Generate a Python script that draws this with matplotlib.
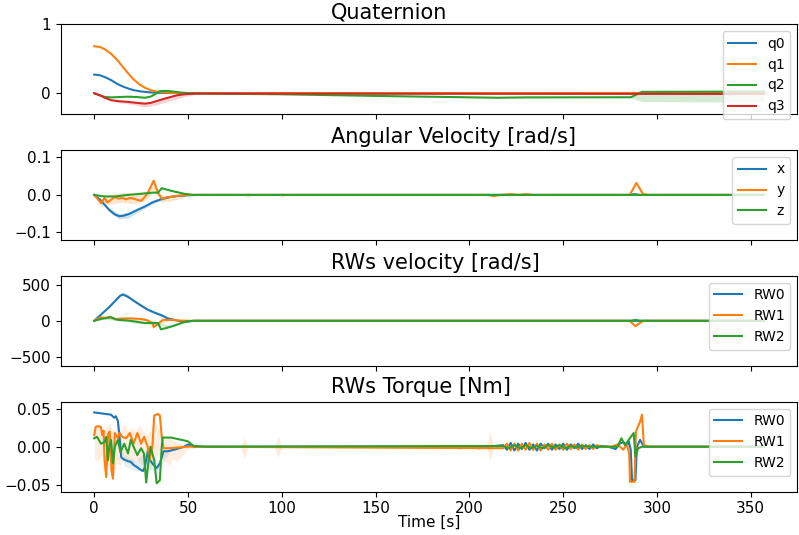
import numpy as np
import matplotlib
matplotlib.use("Agg")
import matplotlib.pyplot as plt

plt.rcParams['font.size'] = 11

# ---- Quaternion (t, value) ----
q0 = [(0, 0.27), (3, 0.26), (6, 0.23), (9, 0.19), (12, 0.14), (15, 0.10), (18, 0.07), (21, 0.045),
      (25, 0.025), (30, 0.012), (35, 0.006), (40, 0.003), (50, 0.001), (60, 0.0), (357, 0.0)]
q1 = [(0, 0.68), (3, 0.67), (6, 0.63), (9, 0.57), (12, 0.49), (15, 0.39), (18, 0.29), (21, 0.20),
      (24, 0.13), (27, 0.08), (30, 0.045), (33, 0.025), (36, 0.015), (40, 0.007), (45, 0.002),
      (55, 0.0), (357, 0.005)]
q2 = [(0, 0.0), (3, -0.03), (6, -0.055), (9, -0.06), (13, -0.055), (18, -0.05), (23, -0.055),
      (27, -0.065), (30, -0.05), (32, -0.02), (35, 0.03), (38, 0.035), (42, 0.025), (46, 0.01),
      (52, 0.0), (60, -0.005), (100, -0.015), (153, -0.04), (215, -0.065), (230, -0.06),
      (286, -0.058), (289, -0.02), (292, 0.02), (357, 0.025)]
q3 = [(0, 0.0), (3, -0.03), (6, -0.07), (9, -0.1), (13, -0.115), (18, -0.125), (23, -0.14),
      (27, -0.15), (30, -0.14), (33, -0.115), (36, -0.09), (40, -0.06), (44, -0.03), (48, -0.015),
      (53, -0.006), (60, -0.005), (357, -0.01)]
# bands (t, low, high)
q2_band = [(32, -0.03, -0.01), (36, 0.0, 0.045), (42, 0.01, 0.04), (50, -0.005, 0.01)]
q2_band_late = [(286, -0.07, -0.055), (292, -0.12, 0.03), (357, -0.13, 0.035)]
q3_band = [(10, -0.125, -0.1), (20, -0.16, -0.12), (27, -0.2, -0.15), (33, -0.17, -0.1),
           (40, -0.11, -0.05), (48, -0.05, -0.01), (55, -0.01, -0.004)]

# ---- Angular velocity ----
wx = [(0, 0.0), (3, -0.012), (5.5, -0.026), (8, -0.04), (11, -0.052), (13.5, -0.057), (16, -0.055),
      (19, -0.05), (23, -0.04), (27, -0.031), (31, -0.02), (36, -0.011), (40, -0.006), (44, -0.003),
      (50, -0.001), (55, 0.0), (285, 0.0), (288, 0.002), (291, 0.0), (357, 0.0)]
wy = [(0, 0.0), (2, -0.012), (3.7, -0.022), (5.5, -0.008), (7, -0.02), (9, -0.013), (11, -0.005),
      (13, -0.01), (15, -0.008), (17, -0.012), (19, -0.008), (21, -0.01), (23, -0.013), (25, -0.016),
      (27, -0.005), (28.5, 0.005), (31.7, 0.038), (34, 0.006), (36, -0.01), (41, -0.005), (45, -0.002),
      (50, 0.0), (210, 0.0), (213, -0.003), (216, 0.0), (222, 0.002), (226, 0.0), (230, 0.002),
      (234, 0.0), (285.5, 0.0), (289, 0.032), (292.6, 0.002), (296, 0.0), (357, 0.0)]
wz = [(0, 0.0), (5.5, -0.004), (11, -0.004), (18, 0.0), (25, 0.003), (31, 0.006), (34, 0.006),
      (36, 0.018), (41, 0.011), (48, 0.003), (53, 0.0), (357, 0.0)]
wx_band = [(8, -0.045, -0.035), (13, -0.064, -0.05), (18, -0.062, -0.046), (25, -0.042, -0.03),
           (32, -0.022, -0.012), (40, -0.008, -0.004)]
wy_band = [(3, -0.03, -0.01), (8, -0.025, 0.0), (15, -0.02, 0.006), (22, -0.024, 0.007),
           (28, -0.012, 0.01), (32, 0.01, 0.03), (36, -0.02, 0.0), (42, -0.015, 0.0), (50, -0.002, 0.002)]
wy_band_b = [(78, 0.0, 0.0), (82, -0.006, 0.006), (86, 0.0, 0.0)]
wy_band_c = [(97, 0.0, 0.0), (100, -0.006, 0.006), (104, 0.0, 0.0)]
wy_band_d = [(210, 0.0, 0.0), (214, -0.005, 0.004), (218, 0.0, 0.0)]

# ---- RW velocity ----
rv0 = [(0, 0), (4, 95), (8, 190), (11, 270), (14, 350), (15.5, 362), (18, 330), (22, 260), (25, 210),
       (28.5, 154), (32, 115), (35.6, 79), (39, 35), (44, 5), (48, -17), (53, 0), (357, 0)]
rv1 = [(0, 0), (2, 30), (3.7, 48), (6, 40), (8.3, 57), (11, 22), (14, 30), (18, 35), (22, 30),
       (25, 26), (28, 10), (31, -31), (31.7, -88), (34, -44), (36.5, 13), (41, 13), (45, 5), (50, 0),
       (285.5, 0), (288.5, -75), (292.6, 0), (357, 0)]
rv2 = [(0, 0), (3, 20), (5.5, 35), (9, 48), (12.6, 13), (18, 4), (22, -10), (27, -31), (34, -31),
       (35.6, -118), (39, -95), (42.7, -66), (46, -35), (49, -9), (53, 0), (286, 0), (288.5, 13),
       (291, 0), (357, 0)]
rv0_band = [(8, 180, 200), (12, 290, 330), (15, 350, 400), (18, 320, 370), (22, 250, 275),
            (30, 120, 150), (36, 60, 100), (42, 5, 25)]
rv1_band = [(5, 30, 60), (12, 15, 45), (20, 15, 45), (28, -10, 25), (33, -60, -20), (40, 0, 30),
            (48, -5, 8)]
rv2_band = [(5, 20, 45), (15, -5, 25), (25, -40, -10), (33, -45, -15), (40, -95, -60), (48, -20, 0)]

# ---- RW torque ----
tq0 = [(0, 0.045), (3, 0.044), (6, 0.043), (9, 0.042), (10.6, 0.038), (11.5, 0.040), (12.6, 0.034),
       (13.5, 0.013), (14.4, -0.014), (16, -0.017), (18, -0.019), (19.6, -0.02), (21, -0.024),
       (23, -0.027), (24.5, -0.03), (26, -0.032), (27, -0.027), (28.7, -0.004), (29.5, -0.017),
       (31, -0.022), (33.3, -0.028), (35, -0.022), (37, -0.006), (39, -0.006), (41, -0.005),
       (44, -0.003), (48, 0.0), (50, 0.003), (53, 0.0), (190, 0.0), (195, -0.002), (197, 0.001),
       (205, -0.002), (210, 0.0), (218, 0.002), (220, -0.004), (222, 0.005), (224, -0.005),
       (226, 0.004), (228, -0.003), (230, 0.005), (232, -0.004), (234, 0.003), (236, -0.005),
       (238, 0.004), (240, -0.002), (242, 0.004), (244, -0.004), (246, 0.003), (248, -0.003),
       (250, 0.004), (252, -0.004), (254, 0.003), (256, -0.002), (258, 0.004), (260, -0.003),
       (262, 0.002), (264, -0.003), (266, 0.003), (268, -0.002), (270, 0.001), (274, 0.0),
       (278, -0.003), (280, 0.004), (282, 0.006), (284, 0.002), (285, 0.007), (286, -0.004),
       (286.7, -0.044), (288.5, -0.044), (289.3, 0.0), (291, 0.009), (293, 0.0), (357, 0.0)]
tq1 = [(0, 0.015), (0.8, 0.026), (2, 0.027), (3.5, 0.026), (4.4, 0.015), (5, 0.021), (5.5, -0.018),
       (6.4, -0.04), (7.4, 0.017), (8.3, 0.02), (9.2, -0.031), (10, -0.042), (11, 0.018),
       (12.6, 0.011), (13.5, 0.018), (15, 0.013), (17, 0.011), (19, 0.018), (21, 0.004), (23, 0.018),
       (25, 0.004), (26.6, 0.013), (28.5, 0.0), (29.4, -0.018), (31, 0.0), (32, 0.041), (34, 0.043),
       (35, 0.041), (36, 0.013), (37, -0.002), (39.7, -0.002), (45, -0.001), (50, 0.0), (218, -0.002),
       (220, 0.004), (222, -0.005), (224, 0.004), (226, -0.005), (228, 0.004), (230, -0.004),
       (232, 0.005), (234, -0.004), (236, 0.004), (238, -0.005), (240, 0.003), (242, -0.004),
       (244, 0.004), (246, -0.004), (248, 0.003), (250, -0.004), (252, 0.004), (254, -0.003),
       (256, 0.003), (258, -0.004), (260, 0.003), (262, -0.003), (264, 0.002), (266, -0.003),
       (268, 0.002), (270, 0.0), (276, 0.0), (279, 0.003), (282, -0.004), (284, 0.003),
       (285.2, -0.01), (285.6, -0.046), (288, -0.046), (288.8, 0.02), (291, 0.033), (292, 0.042),
       (293, 0.002), (296, 0.0), (357, 0.0)]
tq2 = [(0, 0.011), (1.5, 0.013), (3.6, 0.004), (5.5, 0.006), (6.4, 0.013), (7.3, -0.018), (8, 0.0),
       (9, 0.009), (10, -0.022), (11, 0.0), (12.6, 0.009), (14, -0.007), (16, 0.004), (18, -0.009),
       (19.5, 0.009), (21, 0.0), (23, -0.011), (25, -0.002), (26.5, -0.009), (27.7, -0.047),
       (29, -0.018), (30, 0.0), (32, -0.018), (33.3, -0.048), (35, -0.044), (36, 0.0), (36.5, 0.012),
       (41, 0.012), (46.5, 0.009), (50, 0.007), (53, 0.001), (60, 0.0), (218, 0.001), (221, -0.002),
       (224, 0.002), (227, -0.002), (230, 0.002), (233, -0.002), (236, 0.001), (239, -0.002),
       (242, 0.002), (245, -0.001), (248, 0.002), (251, -0.002), (254, 0.001), (257, -0.001),
       (260, 0.001), (265, 0.0), (279, 0.0), (281, 0.011), (283, 0.002), (285.5, 0.011),
       (287.6, 0.018), (288.5, -0.013), (290, -0.002), (292, 0.0), (357, 0.0)]
tq1_band = [(0, -0.015, 0.025), (2, -0.02, 0.03), (4, -0.01, 0.02), (6, -0.035, 0.025),
            (8, -0.02, 0.03), (10, -0.04, 0.02), (12, -0.02, 0.025), (14, -0.025, 0.02),
            (16, -0.015, 0.03), (18, -0.02, 0.02), (20, -0.025, 0.025), (22, -0.015, 0.02),
            (24, -0.02, 0.03), (26, -0.025, 0.02), (28, -0.02, 0.015), (30, -0.03, 0.02),
            (32, -0.02, 0.035), (34, -0.01, 0.025), (36, -0.015, 0.018), (38, -0.02, 0.01),
            (40, -0.025, 0.012), (42, -0.015, 0.008), (44, -0.02, 0.006), (47, -0.012, 0.004),
            (50, -0.004, 0.002), (55, -0.001, 0.001)]
tq1_band_b = [(78, 0.0, 0.0), (80, -0.015, 0.012), (82, 0.0, 0.0)]
tq1_band_c = [(96, 0.0, 0.0), (98, -0.014, 0.014), (100, 0.0, 0.0)]
tq1_band_d = [(209, 0.0, 0.0), (211, -0.018, 0.02), (213, 0.0, 0.0)]
tq0_band = [(12, 0.03, 0.045), (16, -0.025, -0.01), (22, -0.032, -0.018), (28, -0.03, -0.005),
            (34, -0.032, -0.018), (40, -0.008, -0.002)]

# ---- figure ----
fig, axs = plt.subplots(4, 1, figsize=(7.99, 5.35), dpi=100, sharex=True)
fig.subplots_adjust(left=0.076, right=0.998, top=0.955, bottom=0.081, hspace=0.4)

c = plt.rcParams['axes.prop_cycle'].by_key()['color']


def line(ax, pts, color, label):
    a = np.array(pts)
    ax.plot(a[:, 0], a[:, 1], color=color, label=label, lw=1.5)


def band(ax, pts, color, alpha=0.2):
    a = np.array(pts)
    ax.fill_between(a[:, 0], a[:, 1], a[:, 2], color=color, alpha=alpha, lw=0)


ax = axs[0]
band(ax, q2_band, c[2]); band(ax, q2_band_late, c[2]); band(ax, q3_band, c[3])
for pts, col, lab in [(q0, c[0], 'q0'), (q1, c[1], 'q1'), (q2, c[2], 'q2'), (q3, c[3], 'q3')]:
    line(ax, pts, col, lab)
ax.set_ylim(-0.3, 1.0)
ax.set_yticks([0, 1])
ax.set_title('Quaternion', x=0.367, ha='left', fontsize=15, pad=4)
ax.legend(loc='upper right', fontsize=10)

ax = axs[1]
band(ax, wx_band, c[0]); band(ax, wy_band, c[1])
band(ax, wy_band_b, c[1]); band(ax, wy_band_c, c[1]); band(ax, wy_band_d, c[1])
for pts, col, lab in [(wx, c[0], 'x'), (wy, c[1], 'y'), (wz, c[2], 'z')]:
    line(ax, pts, col, lab)
ax.set_ylim(-0.12, 0.12)
ax.set_yticks([-0.1, 0.0, 0.1])
ax.set_title('Angular Velocity [rad/s]', x=0.367, ha='left', fontsize=15, pad=5)
ax.legend(loc='upper right', fontsize=10)

ax = axs[2]
band(ax, rv0_band, c[0]); band(ax, rv1_band, c[1]); band(ax, rv2_band, c[2])
for pts, col, lab in [(rv0, c[0], 'RW0'), (rv1, c[1], 'RW1'), (rv2, c[2], 'RW2')]:
    line(ax, pts, col, lab)
ax.set_ylim(-620, 620)
ax.set_yticks([-500, 0, 500])
ax.set_title('RWs velocity [rad/s]', x=0.367, ha='left', fontsize=15, pad=5)
ax.legend(loc='upper right', fontsize=10)

ax = axs[3]
band(ax, tq1_band, c[1], 0.13); band(ax, tq1_band_b, c[1], 0.15); band(ax, tq1_band_c, c[1], 0.15)
band(ax, tq1_band_d, c[1], 0.15); band(ax, tq0_band, c[0], 0.12)
for pts, col, lab in [(tq0, c[0], 'RW0'), (tq1, c[1], 'RW1'), (tq2, c[2], 'RW2')]:
    line(ax, pts, col, lab)
ax.set_ylim(-0.059, 0.059)
ax.set_yticks([-0.05, 0.0, 0.05])
ax.set_title('RWs Torque [Nm]', x=0.367, ha='left', fontsize=15, pad=6)
ax.legend(loc='upper right', fontsize=10)
ax.set_xlabel('Time [s]', labelpad=-1)
ax.set_xlim(-17.85, 374.85)

fig.savefig('out.png', dpi=100)
